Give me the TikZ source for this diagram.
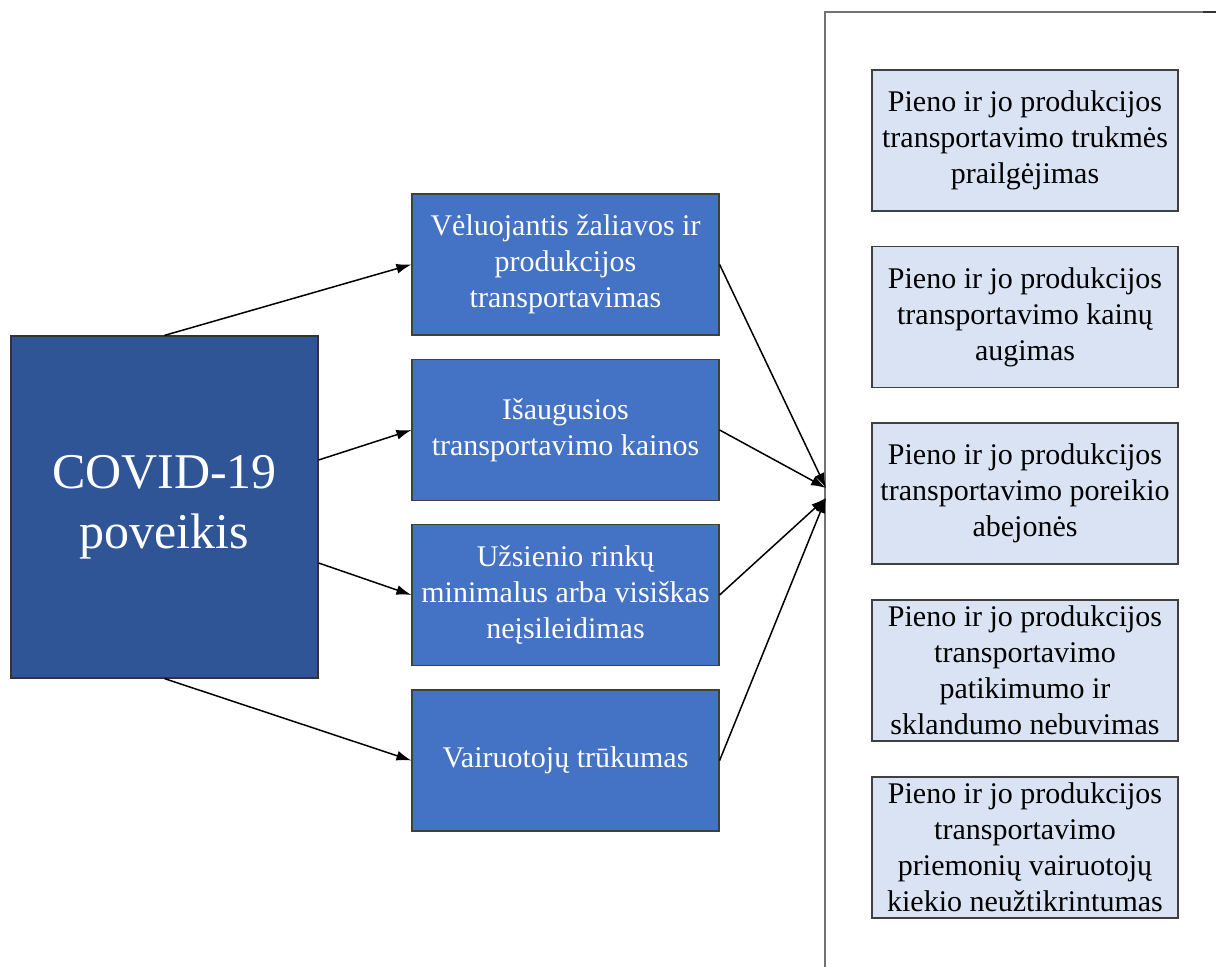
\documentclass[tikz,border=0pt]{standalone}
\usepackage{fontspec}
\setmainfont{Liberation Serif}
\usetikzlibrary{arrows.meta,positioning}

\definecolor{darkblue}{HTML}{2F5597}
\definecolor{midblue}{HTML}{4472C4}
\definecolor{paleblue}{HTML}{DAE3F3}

\begin{document}
\begin{tikzpicture}[x=0.5pt, y=-0.5pt,
  cause/.style={draw=black!75, line width=0.6pt, fill=midblue, text=white, align=center,
    minimum width=153.5pt, minimum height=70.5pt, inner sep=0pt, font=\fontsize{15}{18}\selectfont},
  effect/.style={cause, fill=paleblue, text=black, minimum width=153pt},
  link/.style={line width=0.75pt, -{Latex[length=7.5pt, width=5pt]}}]
\useasboundingbox (0,0) rectangle (1216,967);
% frame on the right
\draw[black!55, line width=0.8pt] (825,967) -- (825,12) -- (1203,12);
\draw[black!80, line width=1.2pt] (1203,12) -- (1216,12);
% main box
\node[draw=black!80, line width=0.6pt, fill=darkblue, text=white, align=center,
  minimum width=153.5pt, minimum height=171pt, inner sep=0pt,
  font=\fontsize{25}{30}\selectfont] (covid) at (164.5,507) {COVID-19\\poveikis};
% causes
\node[cause] (late) at (565.5,264.5) {Vėluojantis žaliavos ir\\produkcijos\\transportavimas};
\node[cause] (price) at (565.5,430) {Išaugusios\\transportavimo kainos};
\node[cause] (market) at (565.5,595) {Užsienio rinkų\\minimalus arba visiškas\\neįsileidimas};
\node[cause] (drivers) at (565.5,760.5) {Vairuotojų trūkumas};
% effects
\node[effect] (e1) at (1025,140.5) {Pieno ir jo produkcijos\\transportavimo trukmės\\prailgėjimas};
\node[effect] (e2) at (1025,317) {Pieno ir jo produkcijos\\transportavimo kainų\\augimas};
\node[effect] (e3) at (1025,493.5) {Pieno ir jo produkcijos\\transportavimo poreikio\\abejonės};
\node[effect] (e4) at (1025,670.5) {Pieno ir jo produkcijos\\transportavimo\\patikimumo ir\\sklandumo nebuvimas};
\node[effect] (e5) at (1025,847.5) {Pieno ir jo produkcijos\\transportavimo\\priemonių vairuotojų\\kiekio neužtikrintumas};
% arrows
\coordinate (hubA) at (826,488);
\coordinate (hubB) at (826,498);
\draw[link] (covid.north) -- (late.west);
\draw[link] ([yshift=23.5pt]covid.east) -- (price.west);
\draw[link] ([yshift=-28pt]covid.east) -- (market.west);
\draw[link] (covid.south) -- (drivers.west);
\draw[link] (late.east) -- (hubA);
\draw[link] (price.east) -- (hubA);
\draw[link] (market.east) -- (hubB);
\draw[link] (drivers.east) -- (hubB);
\end{tikzpicture}
\end{document}
